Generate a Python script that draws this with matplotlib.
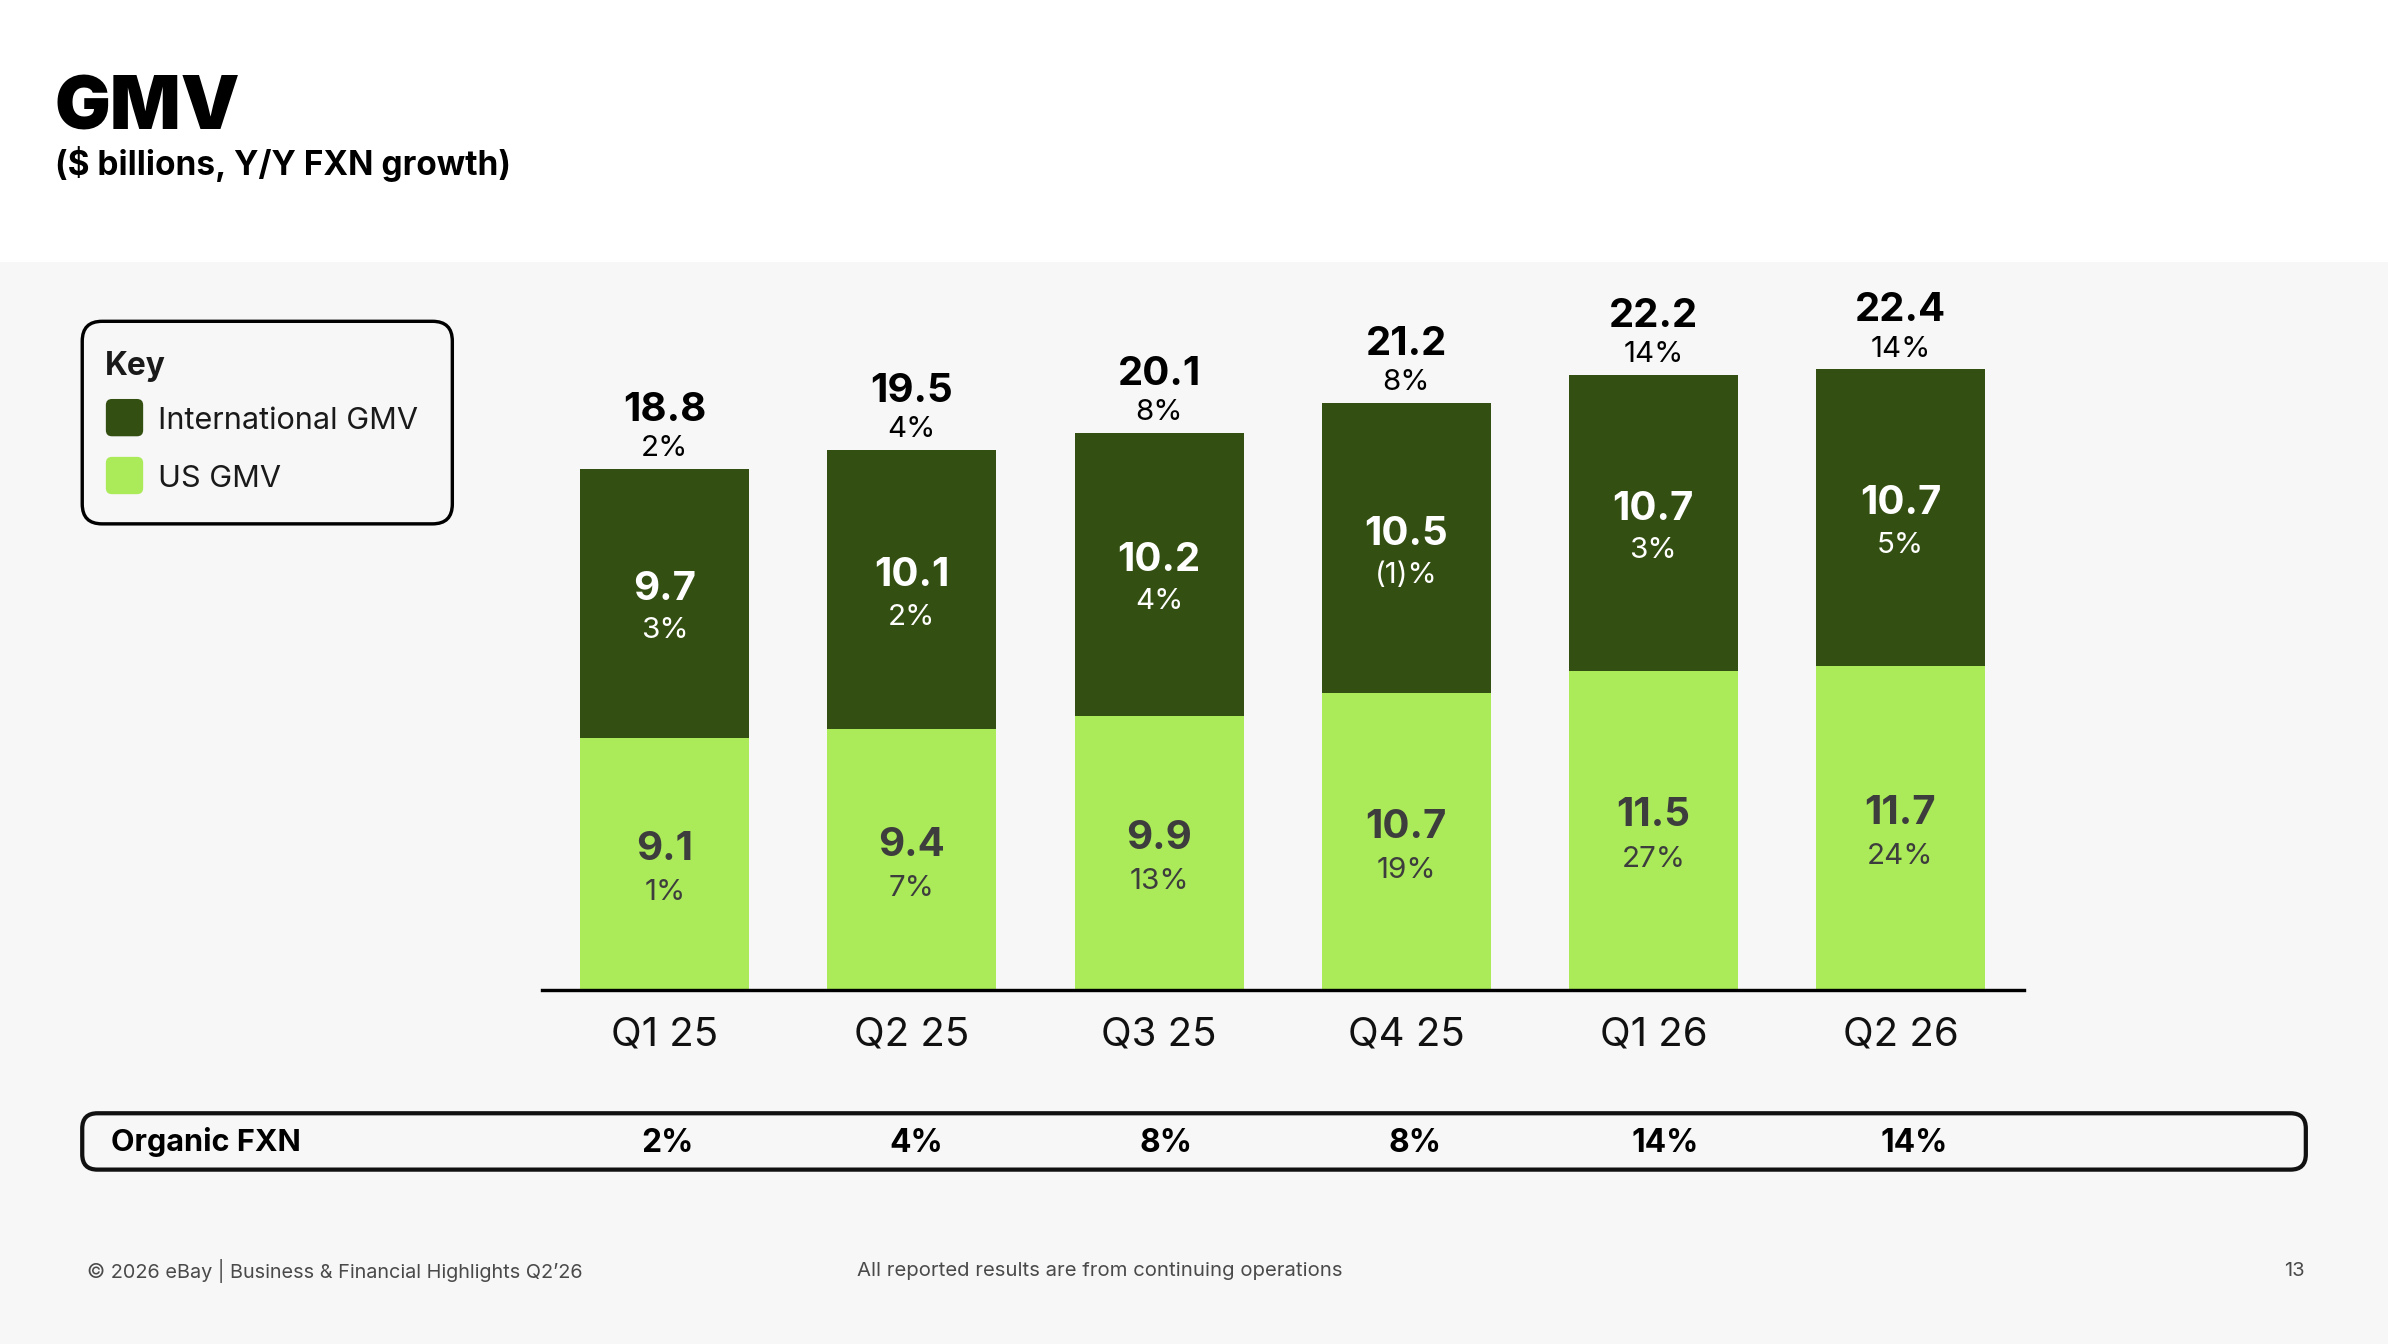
import matplotlib
matplotlib.use("Agg")
import matplotlib.pyplot as plt
from matplotlib.patches import FancyBboxPatch, Rectangle

plt.rcParams["font.family"] = ["Inter", "DejaVu Sans"]

# data
quarters = ["Q1 25", "Q2 25", "Q3 25", "Q4 25", "Q1 26", "Q2 26"]
us_gmv = [9.1, 9.4, 9.9, 10.7, 11.5, 11.7]
intl_gmv = [9.7, 10.1, 10.2, 10.5, 10.7, 10.7]
total_gmv = [18.8, 19.5, 20.1, 21.2, 22.2, 22.4]
total_growth = ["2%", "4%", "8%", "8%", "14%", "14%"]
intl_growth = ["3%", "2%", "4%", "(1)%", "3%", "5%"]
us_growth = ["1%", "7%", "13%", "19%", "27%", "24%"]
organic_fxn = ["2%", "4%", "8%", "8%", "14%", "14%"]

DARK = "#344f12"
LIGHT = "#abea59"
GREY_BG = "#f7f7f7"
US_TXT = "#3d3d3d"

W, H = 1568, 882.5  # layout units (1 unit = 0.72 pt)
fig = plt.figure(figsize=(W / 100, H / 100), dpi=152.3)
fig.patch.set_facecolor("white")

# background axes in layout units, y going down
bg = fig.add_axes([0, 0, 1, 1])
bg.set_xlim(0, W)
bg.set_ylim(H, 0)
bg.axis("off")
bg.add_patch(Rectangle((0, 172), W, H - 172, facecolor=GREY_BG, edgecolor="none"))

bg.text(36, 85, "GMV", fontsize=35, fontweight="black", color="black", va="baseline")
bg.text(36, 115, "($ billions, Y/Y FXN growth)", fontsize=15.8, fontweight="bold",
        color="black", va="baseline")

# key box
bg.add_patch(FancyBboxPatch((54, 211), 243, 133, boxstyle="round,pad=0,rounding_size=13",
                            facecolor="none", edgecolor="black", linewidth=1.6))
bg.text(69, 246, "Key", fontsize=15, fontweight="bold", color="#1a1a1a", va="baseline")
for yy, col, lab in [(262, DARK, "International GMV"), (300, LIGHT, "US GMV")]:
    bg.add_patch(FancyBboxPatch((69.5, yy), 24.5, 24.5, boxstyle="round,pad=0,rounding_size=4",
                                facecolor=col, edgecolor="none"))
    bg.text(104, yy + 19.5, lab, fontsize=14.5, color="#1a1a1a", va="baseline")

# organic FXN row
bg.add_patch(FancyBboxPatch((54, 731), 1460, 37, boxstyle="round,pad=0,rounding_size=10",
                            facecolor="none", edgecolor="#111111", linewidth=2.0))
bg.text(73, 756, "Organic FXN", fontsize=14.5, fontweight="bold", color="black", va="baseline")

# footer
bg.text(57, 839, "\u00a9 2026 eBay | Business & Financial Highlights Q2\u201926", fontsize=9.4,
        color="#4a4a4a", va="baseline")
bg.text(563, 838, "All reported results are from continuing operations", fontsize=9.6,
        color="#4a4a4a", va="baseline")
bg.text(1513, 838, "13", fontsize=9.5, color="#4a4a4a", va="baseline", ha="right")

# bar chart
ax = fig.add_axes([356 / W, (H - 650) / H, (1329 - 356) / W, 545.7 / H])
ax.set_facecolor("none")
x = list(range(len(quarters)))
bw = 0.684
ax.bar(x, us_gmv, width=bw, color=LIGHT, zorder=2)
ax.bar(x, intl_gmv, width=bw, bottom=us_gmv, color=DARK, zorder=2)
ax.set_xlim(-0.496, 5.5)
ax.set_ylim(0, 30)
for s in ["top", "left", "right"]:
    ax.spines[s].set_visible(False)
ax.spines["bottom"].set_linewidth(1.6)
ax.spines["bottom"].set_zorder(3)
ax.set_yticks([])
ax.set_xticks(x)
ax.set_xticklabels(quarters, fontsize=19, color="#111111")
ax.tick_params(axis="x", length=0, pad=12.5)

for i in x:
    top = us_gmv[i] + intl_gmv[i]
    ax.annotate(f"{total_gmv[i]:.1f}", (i, top), xytext=(0, 22.7), textcoords="offset points",
                ha="center", va="baseline", fontsize=19, fontweight="bold", color="black")
    ax.annotate(total_growth[i], (i, top), xytext=(0, 6), textcoords="offset points",
                ha="center", va="baseline", fontsize=14, color="black")
    mid_i = us_gmv[i] + intl_gmv[i] / 2
    ax.annotate(f"{intl_gmv[i]:.1f}", (i, mid_i), xytext=(0, 1.6), textcoords="offset points",
                ha="center", va="baseline", fontsize=19, fontweight="bold", color="white")
    ax.annotate(intl_growth[i], (i, mid_i), xytext=(0, -16.5), textcoords="offset points",
                ha="center", va="baseline", fontsize=14, color="white")
    mid_u = us_gmv[i] / 2
    ax.annotate(f"{us_gmv[i]:.1f}", (i, mid_u), xytext=(0, 2), textcoords="offset points",
                ha="center", va="baseline", fontsize=19, fontweight="bold", color=US_TXT)
    ax.annotate(us_growth[i], (i, mid_u), xytext=(0, -17), textcoords="offset points",
                ha="center", va="baseline", fontsize=14, color=US_TXT)
    # organic FXN row values, table columns drift slightly right of the bars
    ax.annotate(organic_fxn[i], (i + 0.01 + 0.009 * i, 0), xytext=(0, -76.5),
                textcoords="offset points", ha="center", va="baseline", fontsize=15,
                fontweight="bold", color="black", annotation_clip=False)

fig.savefig("out.png", dpi=152.3, facecolor=fig.get_facecolor())
